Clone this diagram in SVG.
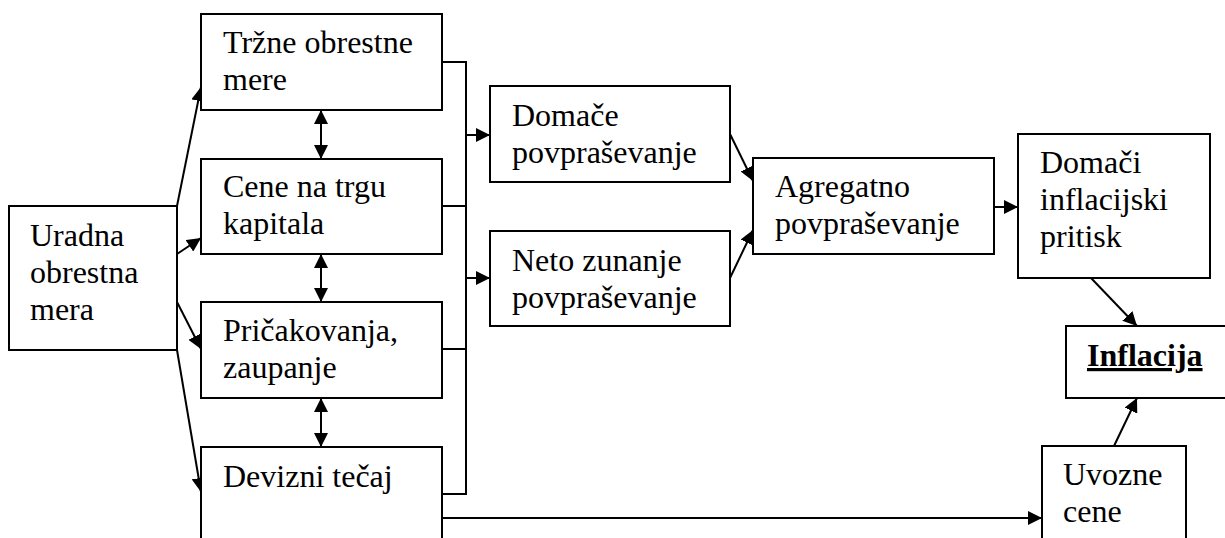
<svg xmlns="http://www.w3.org/2000/svg" width="1225" height="538" viewBox="0 0 1225 538">
<style>
.box{fill:#fff;stroke:#000;stroke-width:2}
text{font-family:'Liberation Serif','Times New Roman',Times,serif;font-size:32px;fill:#000}
.b{font-weight:bold;text-decoration:underline}
.c{fill:none;stroke:#000;stroke-width:2}
.a{marker-end:url(#ah)}
.d{marker-start:url(#ahs);marker-end:url(#ah)}
</style>
<defs>
<marker id="ah" markerUnits="userSpaceOnUse" markerWidth="15" markerHeight="14" refX="14" refY="7" orient="auto">
<path d="M0,0 L14,7 L0,14 z" fill="#000"/>
</marker>
<marker id="ahs" markerUnits="userSpaceOnUse" markerWidth="15" markerHeight="14" refX="0" refY="7" orient="auto">
<path d="M14,0 L0,7 L14,14 z" fill="#000"/>
</marker>
</defs>
<rect width="1225" height="538" fill="#fff"/>
<g id="connectors">
<path class="c a" d="M177,206 L201,87"/>
<path class="c a" d="M177,254 L201,238"/>
<path class="c a" d="M177,302 L201,349"/>
<path class="c a" d="M177,350 L201,492"/>
<path class="c d" d="M321,110 L321,159"/>
<path class="c d" d="M321,254 L321,302"/>
<path class="c d" d="M321,398 L321,447"/>
<path class="c" d="M442,62 H466 V494 H442"/>
<path class="c" d="M442,206 H466"/>
<path class="c" d="M442,349 H466"/>
<path class="c a" d="M466,135 H490"/>
<path class="c a" d="M466,278 H490"/>
<path class="c a" d="M730,134 L753,181"/>
<path class="c a" d="M730,278 L753,230"/>
<path class="c a" d="M994,207 H1018"/>
<path class="c a" d="M1091,278 L1137,326"/>
<path class="c a" d="M1114,446 L1137,398"/>
<path class="c a" d="M442,518 H1042"/>
</g>
<g id="uradna">
<rect class="box" x="9" y="206" width="168" height="144"/>
<text x="30" y="246">Uradna</text>
<text x="30" y="283">obrestna</text>
<text x="30" y="320">mera</text>
</g>
<g id="trzne">
<rect class="box" x="201" y="14" width="241" height="96"/>
<text x="223" y="53">Tržne obrestne</text>
<text x="223" y="90">mere</text>
</g>
<g id="cene">
<rect class="box" x="201" y="159" width="241" height="95"/>
<text x="223" y="197">Cene na trgu</text>
<text x="223" y="234">kapitala</text>
</g>
<g id="pricakovanja">
<rect class="box" x="201" y="302" width="241" height="96"/>
<text x="223" y="341">Pričakovanja,</text>
<text x="223" y="378">zaupanje</text>
</g>
<g id="devizni">
<rect class="box" x="201" y="447" width="241" height="120"/>
<text x="223" y="487">Devizni tečaj</text>
</g>
<g id="domace">
<rect class="box" x="490" y="86" width="240" height="96"/>
<text x="512" y="126">Domače</text>
<text x="512" y="163">povpraševanje</text>
</g>
<g id="neto">
<rect class="box" x="490" y="231" width="240" height="95"/>
<text x="512" y="271">Neto zunanje</text>
<text x="512" y="308">povpraševanje</text>
</g>
<g id="agregatno">
<rect class="box" x="753" y="158" width="241" height="96"/>
<text x="775" y="197">Agregatno</text>
<text x="775" y="234">povpraševanje</text>
</g>
<g id="domaci">
<rect class="box" x="1018" y="134" width="192" height="144"/>
<text x="1040" y="173">Domači</text>
<text x="1040" y="210">inflacijski</text>
<text x="1040" y="247">pritisk</text>
</g>
<g id="inflacija">
<rect class="box" x="1066" y="326" width="180" height="72"/>
<text class="b" x="1087" y="366">Inflacija</text>
</g>
<g id="uvozne">
<rect class="box" x="1042" y="446" width="144" height="120"/>
<text x="1063" y="485">Uvozne</text>
<text x="1063" y="522">cene</text>
</g>
</svg>
